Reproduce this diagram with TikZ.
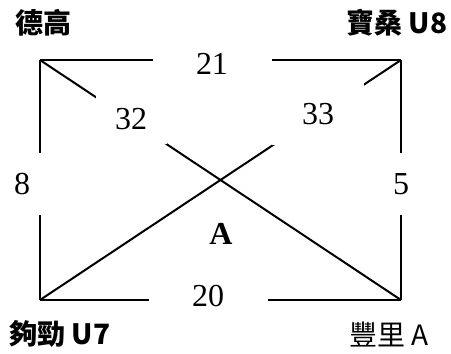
\documentclass[tikz,border=0pt]{standalone}
\usepackage{fontspec}
\setmainfont{Liberation Serif}
\newfontfamily\cjk{Noto Sans CJK TC}
\usetikzlibrary{positioning}

\tikzset{
    edge/.style   = {line width=2pt},
    cost/.style   = {fill=white, inner sep=0pt, font=\fontsize{32}{32}\selectfont},
    place/.style  = {inner sep=0pt, font=\cjk\fontsize{28}{28}\selectfont},
}

\begin{document}
\begin{tikzpicture}[x=1pt, y=-1pt]
        \useasboundingbox (0,0) rectangle (451,354);

        \coordinate (tl) at (40,60);
        \coordinate (tr) at (401,60);
        \coordinate (bl) at (40,300);
        \coordinate (br) at (401,300);

        \node[place, font=\cjk\bfseries\fontsize{28}{28}\selectfont] (dg) at (44,23)  {德高};
        \node[place, font=\cjk\bfseries\fontsize{28}{28}\selectfont] (bs) at (397,23) {寶桑 U8};
        \node[place, font=\cjk\bfseries\fontsize{28}{28}\selectfont] (gj) at (60,334) {夠勁 U7};
        \node[place]                                                  (fl) at (389,335) {豐里 A};

        \draw[edge] (tl) -- (tr);
        \draw[edge] (bl) -- (br);
        \draw[edge] (tl) -- (bl);
        \draw[edge] (tr) -- (br);
        \draw[edge] (tl) -- (br);
        \draw[edge] (bl) -- (tr);

        \node[cost, minimum width=119pt, minimum height=30pt] (c21) at (212,64)  {21};
        \node[cost, minimum width=119pt, minimum height=30pt] (c20) at (208,296) {20};
        \node[cost, minimum width=44pt,  minimum height=62pt] (c8)  at (22,184)  {8};
        \node[cost, minimum width=30pt,  minimum height=62pt] (c5)  at (401,184) {5};
        \node[cost, minimum width=71pt,  minimum height=50pt] (c32) at (131,119) {32};
        \node[cost, minimum width=92pt,  minimum height=62pt] (c33) at (318,114) {33};
        \node[font=\bfseries\fontsize{32}{32}\selectfont]     (a)   at (221,234) {A};
    \end{tikzpicture}
\end{document}
